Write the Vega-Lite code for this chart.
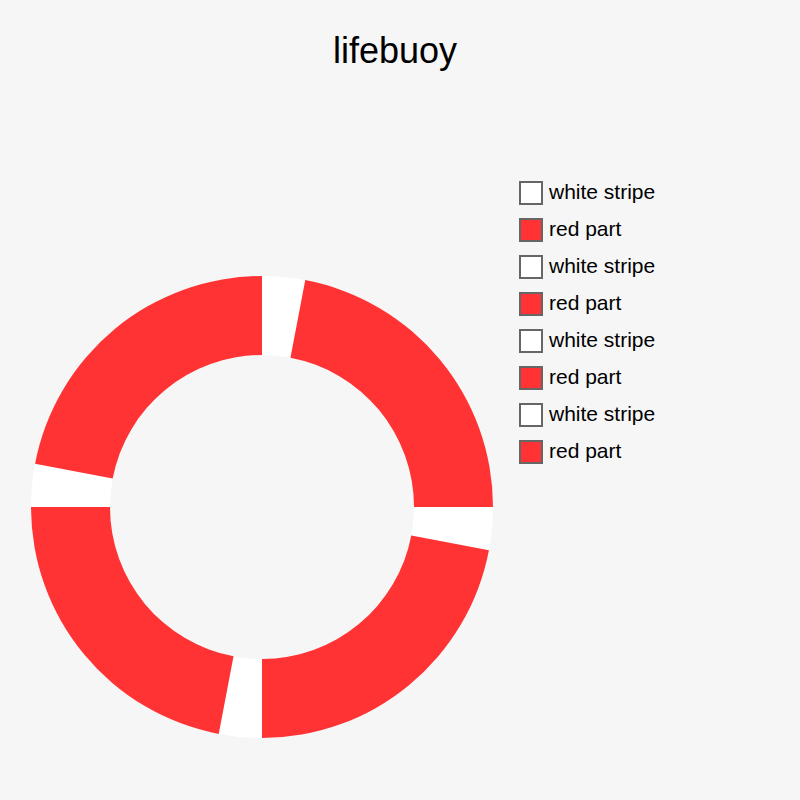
{
  "$schema": "https://vega.github.io/schema/vega-lite/v6.json",
  "width": 462,
  "height": 462,
  "autosize": "none",
  "padding": {"left": 31, "top": 276, "right": 307, "bottom": 62},
  "background": "#f6f6f6",
  "title": {
    "text": "lifebuoy",
    "font": "Liberation Sans",
    "fontSize": 36,
    "fontWeight": "normal",
    "color": "#000000",
    "anchor": "middle",
    "frame": "group",
    "dx": 133,
    "offset": 110
  },
  "data": {
    "values": [
      {"slice": "white stripe#1", "value": 12, "n": 1},
      {"slice": "red part#2", "value": 88, "n": 2},
      {"slice": "white stripe#3", "value": 12, "n": 3},
      {"slice": "red part#4", "value": 88, "n": 4},
      {"slice": "white stripe#5", "value": 12, "n": 5},
      {"slice": "red part#6", "value": 88, "n": 6},
      {"slice": "white stripe#7", "value": 12, "n": 7},
      {"slice": "red part#8", "value": 88, "n": 8}
    ]
  },
  "mark": {"type": "arc", "innerRadius": 152, "outerRadius": 231},
  "encoding": {
    "theta": {"field": "value", "type": "quantitative", "stack": true},
    "order": {"field": "n", "type": "quantitative"},
    "color": {
      "field": "slice",
      "type": "nominal",
      "scale": {
        "domain": ["white stripe#1", "red part#2", "white stripe#3", "red part#4", "white stripe#5", "red part#6", "white stripe#7", "red part#8"],
        "range": ["#ffffff", "#ff3333", "#ffffff", "#ff3333", "#ffffff", "#ff3333", "#ffffff", "#ff3333"]
      },
      "legend": {
        "title": null,
        "orient": "none",
        "legendX": 488,
        "legendY": -95,
        "symbolType": "square",
        "symbolSize": 484,
        "symbolStrokeColor": "#666666",
        "symbolStrokeWidth": 2,
        "symbolOpacity": 1,
        "labelFont": "Liberation Sans",
        "labelFontSize": 21,
        "labelColor": "#000000",
        "labelOffset": 6,
        "rowPadding": 7,
        "labelExpr": "split(datum.label, '#')[0]"
      }
    }
  },
  "config": {"view": {"stroke": null}}
}
